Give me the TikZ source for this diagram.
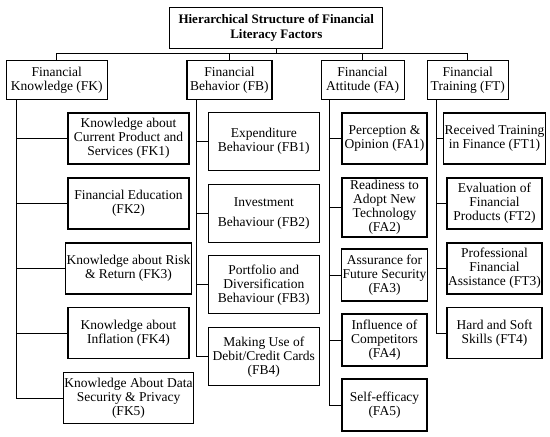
\documentclass[tikz,border=0pt]{standalone}
\usepackage{fontspec}
\setmainfont{Liberation Serif}

\tikzset{
  box/.style={draw, line width=1.2pt, align=center, inner sep=1pt,
              font=\fontsize{13.5}{14}\selectfont},
  link/.style={line width=1pt},
}

\begin{document}
\begin{tikzpicture}[x=1pt,y=-1pt]
  \useasboundingbox (0,0) rectangle (550,437);

  % Title
  \node[box, minimum width=213pt, minimum height=41pt, font=\bfseries\fontsize{13}{14.5}\selectfont]
       (title) at (276.3,27.8) {Hierarchical Structure of Financial\\Literacy Factors};

  % Factors
  \node[box, minimum width=101pt, minimum height=38.5pt] (fk) at (56.7,80.1) {Financial\\Knowledge (FK)};
  \node[box, minimum width=85pt,  minimum height=38.5pt] (fb) at (229.4,80.1) {Financial\\Behavior (FB)};
  \node[box, minimum width=83pt,  minimum height=38.5pt] (fa) at (362.6,80.1) {Financial\\Attitude (FA)};
  \node[box, minimum width=81pt,  minimum height=38.5pt] (ft) at (467.8,80.1) {Financial\\Training (FT)};

  % Knowledge items
  \node[box, minimum width=121pt, minimum height=51pt] (fk1) at (128.5,138.5) {Knowledge about\\Current Product and\\Services (FK1)};
  \node[box, minimum width=121pt, minimum height=51pt] (fk2) at (128.5,203.5) {Financial Education\\(FK2)};
  \node[box, minimum width=121pt, minimum height=51pt] (fk3) at (128.5,268.5) {Knowledge about Risk\\\& Return (FK3)};
  \node[box, minimum width=121pt, minimum height=51pt] (fk4) at (128.5,333) {Knowledge about\\Inflation (FK4)};
  \node[box, minimum width=121pt, minimum height=51pt] (fk5) at (128.5,398) {Knowledge About Data\\Security \& Privacy\\(FK5)};

  % Behavior items
  \node[box, minimum width=111pt, minimum height=58pt] (fb1) at (263.8,141.7) {Expenditure\\Behaviour (FB1)};
  \node[box, minimum width=111pt, minimum height=58pt] (fb2) at (263.8,213.5) {Investment\\[6pt]Behaviour (FB2)};
  \node[box, minimum width=111pt, minimum height=58pt] (fb3) at (263.8,284.8) {Portfolio and\\Diversification\\Behaviour (FB3)};
  \node[box, minimum width=111pt, minimum height=58pt] (fb4) at (263.8,356.8) {Making Use of\\Debit/Credit Cards\\(FB4)};

  % Attitude items
  \node[box, minimum width=85pt, minimum height=51pt] (fa1) at (384.5,138.5) {Perception \&\\Opinion (FA1)};
  \node[box, minimum width=85pt, minimum height=59pt] (fa2) at (384.5,207.5) {Readiness to\\Adopt New\\Technology\\(FA2)};
  \node[box, minimum width=85pt, minimum height=52pt] (fa3) at (384.5,275) {Assurance for\\Future Security\\(FA3)};
  \node[box, minimum width=85pt, minimum height=52pt] (fa4) at (384.5,340) {Influence of\\Competitors\\(FA4)};
  \node[box, minimum width=85pt, minimum height=52pt] (fa5) at (384.5,405) {Self-efficacy\\(FA5)};

  % Training items
  \node[box, minimum width=95pt, minimum height=51pt] (ft1) at (494.5,138.5) {Received Training\\in Finance (FT1)};
  \node[box, minimum width=95pt, minimum height=51pt] (ft2) at (494.5,203.5) {Evaluation of\\Financial\\Products (FT2)};
  \node[box, minimum width=95pt, minimum height=51pt] (ft3) at (494.5,268.5) {Professional\\Financial\\Assistance (FT3)};
  \node[box, minimum width=95pt, minimum height=51pt] (ft4) at (494.5,333) {Hard and Soft\\Skills (FT4)};

  % Bus
  \coordinate (bus) at (0,53);
  \draw[link] (title.south) -- (title |- bus);
  \draw[link] (fk.north) -- (fk |- bus) -| (ft.north);
  \draw[link] (fb.north) -- (fb |- bus);
  \draw[link] (fa.north) -- (fa |- bus);

  % Trunks
  \coordinate (fkt) at (16.5,0);
  \coordinate (fbt) at (196,0);
  \coordinate (fat) at (329.5,0);
  \coordinate (ftt) at (436,0);
  \draw[link] (fk.south -| fkt) |- (fk5.west);
  \draw[link] (fb.south -| fbt) |- (fb4.west);
  \draw[link] (fa.south -| fat) |- (fa5.west);
  \draw[link] (ft.south -| ftt) |- (ft4.west);
  \foreach \i in {1,...,4} \draw[link] (fkt |- fk\i.west) -- (fk\i.west);
  \foreach \i in {1,...,3} \draw[link] (fbt |- fb\i.west) -- (fb\i.west);
  \foreach \i in {1,...,4} \draw[link] (fat |- fa\i.west) -- (fa\i.west);
  \foreach \i in {1,...,3} \draw[link] (ftt |- ft\i.west) -- (ft\i.west);
\end{tikzpicture}
\end{document}
